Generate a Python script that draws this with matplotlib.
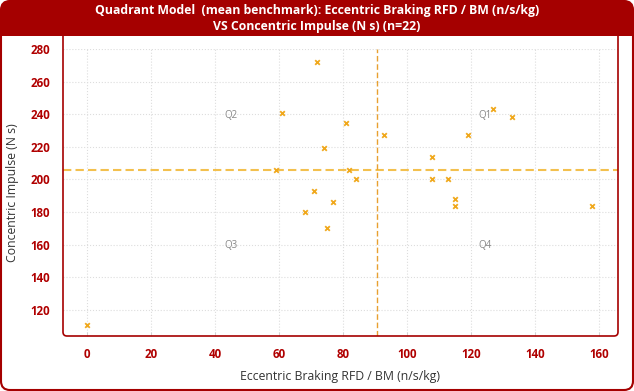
import numpy as np
import matplotlib
matplotlib.use("Agg")
from matplotlib import pyplot as plt
from matplotlib.patches import FancyBboxPatch, Rectangle

# data
rfd_bm = [61, 59, 71, 68, 72, 81, 74, 82, 84, 77, 75,
          93, 108, 108, 113, 115, 115, 119, 127, 133, 158, 0]
impulse = [241, 206, 193, 180, 272, 234.5, 219, 206, 200, 186, 170.5,
           227.5, 214, 200, 200, 188, 184, 227, 243, 238, 184, 111]
x_ticks = [0, 20, 40, 60, 80, 100, 120, 140, 160]
y_ticks = [120, 140, 160, 180, 200, 220, 240, 260, 280]
quad_labels = ["Q1", "Q2", "Q3", "Q4"]
quad_x = [124.5, 45, 45, 124.5]
quad_y = [239.5, 239.5, 159.5, 159.5]

RED = "#a50000"
TICK_RED = "#b00000"
ORANGE = "#f0a81c"
W, H = 634, 391

plt.rcParams['font.family'] = ['Open Sans', 'DejaVu Sans']

fig = plt.figure(figsize=(W / 100, H / 100), dpi=100)

def fx(px):
    return px / W

def fy(py):
    return 1 - py / H

# pixel boxes in inches (origin bottom-left) so that rounding stays round
def box(x0, y0, x1, y1, **kw):
    return FancyBboxPatch((x0 / 100, (H - y1) / 100), (x1 - x0) / 100, (y1 - y0) / 100,
                          transform=fig.dpi_scale_trans, **kw)

# axes: data area from x=63..618 px, y=49..336 px
ax = fig.add_axes([fx(63), fy(336), fx(618) - fx(63), fy(49) - fy(336)])
ax.set_xlim(-7.5, 166)
ax.set_ylim(104, 280)

ax.grid(True, color="#dddddd", linestyle=":", linewidth=0.8)
ax.set_axisbelow(True)

mx = np.mean(rfd_bm)
my = np.mean(impulse)
ax.axhline(my, color="#f3c04e", linestyle="--", linewidth=1.5, dashes=(4, 2), zorder=2)
ax.axvline(mx, color="#e8a030", linestyle="--", linewidth=1.0, dashes=(4, 2), zorder=2)

ax.scatter(rfd_bm, impulse, marker="x", s=11, color=ORANGE, linewidths=1.3, zorder=3)

for lab, qx, qy in zip(quad_labels, quad_x, quad_y):
    ax.text(qx, qy, lab, ha="center", va="center", fontsize=7, color="#888888")

ax.set_xticks(x_ticks)
ax.set_yticks(y_ticks)
ax.tick_params(axis="both", colors="#cccccc", length=3, width=0.6,
               labelcolor=TICK_RED, labelsize=8.3)
ax.tick_params(axis="x", direction="in", pad=8.5)
ax.tick_params(axis="y", length=0, pad=9.5)
for lbl in ax.get_xticklabels() + ax.get_yticklabels():
    lbl.set_fontweight("bold")
for s in ax.spines.values():
    s.set_visible(False)

ax.set_xlabel("Eccentric Braking RFD / BM (n/s/kg)", fontsize=8.8, color="#333333", labelpad=6.5)
ax.set_ylabel("Concentric Impulse (N s)", fontsize=8.8, color="#333333", labelpad=8)

# plot frame (left, bottom, right in red), top hidden under the title bar
fig.patches.append(box(63, 20, 618, 336, boxstyle="round,pad=0,rounding_size=0.04",
                       facecolor="none", edgecolor=RED, linewidth=1.2, zorder=5))

# outer border, clipped title bar inside it
outer = box(1, 1, 633, 390, boxstyle="round,pad=0,rounding_size=0.09",
            facecolor="none", edgecolor=RED, linewidth=1.5, zorder=7)
fig.patches.append(outer)
bar = Rectangle((0, fy(36)), 1, 1 - fy(36), transform=fig.transFigure,
                facecolor=RED, edgecolor="none", zorder=6)
bar.set_clip_path(outer)
fig.patches.append(bar)

fig.text(0.5, fy(18.5), "Quadrant Model  (mean benchmark): Eccentric Braking RFD / BM (n/s/kg)\n"
         "VS Concentric Impulse (N s) (n=22)",
         ha="center", va="center", color="white", fontsize=8.8, fontweight="bold",
         linespacing=1.25, zorder=8)

fig.savefig("out.png", dpi=100)
